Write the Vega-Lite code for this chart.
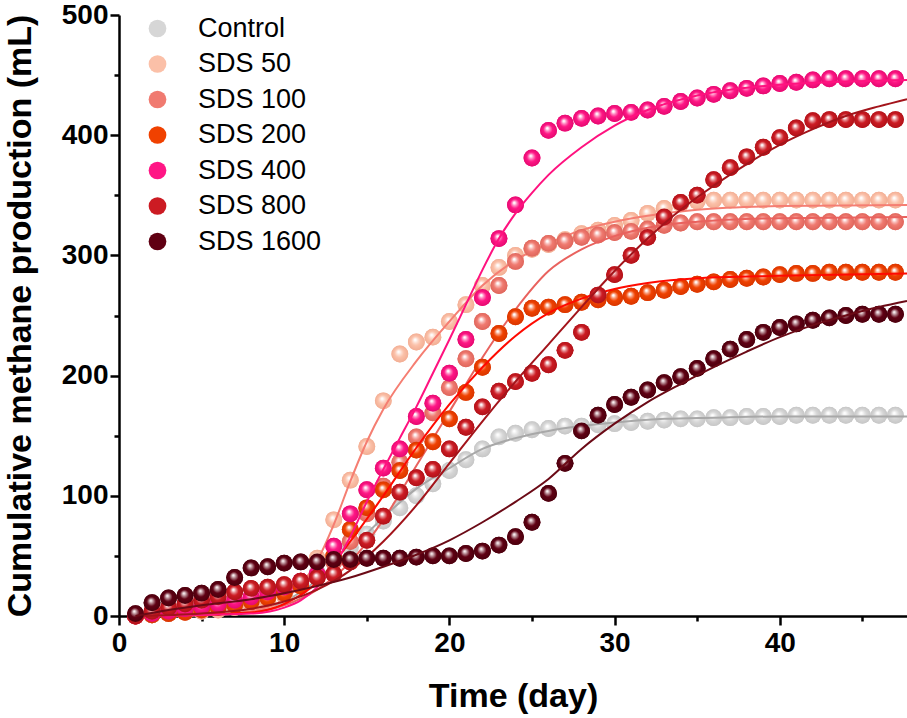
{
  "$schema": "https://vega.github.io/schema/vega-lite/v6.json",
  "width": 788,
  "height": 601,
  "autosize": {"type": "none"},
  "padding": {"left": 119, "top": 15, "right": 0, "bottom": 102},
  "background": "white",
  "datasets": {
    "points": [
      {"series": "Control", "day": 1, "mL": 0}, {"series": "Control", "day": 2, "mL": 1}, {"series": "Control", "day": 3, "mL": 3}, {"series": "Control", "day": 4, "mL": 5}, {"series": "Control", "day": 5, "mL": 7}, {"series": "Control", "day": 6, "mL": 9}, {"series": "Control", "day": 7, "mL": 11}, {"series": "Control", "day": 8, "mL": 13}, {"series": "Control", "day": 9, "mL": 16}, {"series": "Control", "day": 10, "mL": 20}, {"series": "Control", "day": 11, "mL": 27}, {"series": "Control", "day": 12, "mL": 36}, {"series": "Control", "day": 13, "mL": 46}, {"series": "Control", "day": 14, "mL": 57}, {"series": "Control", "day": 15, "mL": 68}, {"series": "Control", "day": 16, "mL": 79}, {"series": "Control", "day": 17, "mL": 90}, {"series": "Control", "day": 18, "mL": 100}, {"series": "Control", "day": 19, "mL": 110}, {"series": "Control", "day": 20, "mL": 121}, {"series": "Control", "day": 21, "mL": 130}, {"series": "Control", "day": 22, "mL": 139}, {"series": "Control", "day": 23, "mL": 149}, {"series": "Control", "day": 24, "mL": 152}, {"series": "Control", "day": 25, "mL": 155}, {"series": "Control", "day": 26, "mL": 156}, {"series": "Control", "day": 27, "mL": 158}, {"series": "Control", "day": 28, "mL": 158}, {"series": "Control", "day": 29, "mL": 159}, {"series": "Control", "day": 30, "mL": 160}, {"series": "Control", "day": 31, "mL": 161}, {"series": "Control", "day": 32, "mL": 162}, {"series": "Control", "day": 33, "mL": 163}, {"series": "Control", "day": 34, "mL": 164}, {"series": "Control", "day": 35, "mL": 164}, {"series": "Control", "day": 36, "mL": 165}, {"series": "Control", "day": 37, "mL": 165}, {"series": "Control", "day": 38, "mL": 166}, {"series": "Control", "day": 39, "mL": 166}, {"series": "Control", "day": 40, "mL": 166}, {"series": "Control", "day": 41, "mL": 167}, {"series": "Control", "day": 42, "mL": 167}, {"series": "Control", "day": 43, "mL": 167}, {"series": "Control", "day": 44, "mL": 167}, {"series": "Control", "day": 45, "mL": 167}, {"series": "Control", "day": 46, "mL": 167}, {"series": "Control", "day": 47, "mL": 167},
      {"series": "SDS 50", "day": 1, "mL": 0}, {"series": "SDS 50", "day": 2, "mL": 1}, {"series": "SDS 50", "day": 3, "mL": 2}, {"series": "SDS 50", "day": 4, "mL": 3}, {"series": "SDS 50", "day": 5, "mL": 4}, {"series": "SDS 50", "day": 6, "mL": 5}, {"series": "SDS 50", "day": 7, "mL": 7}, {"series": "SDS 50", "day": 8, "mL": 9}, {"series": "SDS 50", "day": 9, "mL": 12}, {"series": "SDS 50", "day": 10, "mL": 17}, {"series": "SDS 50", "day": 11, "mL": 28}, {"series": "SDS 50", "day": 12, "mL": 48}, {"series": "SDS 50", "day": 13, "mL": 80}, {"series": "SDS 50", "day": 14, "mL": 113}, {"series": "SDS 50", "day": 15, "mL": 141}, {"series": "SDS 50", "day": 16, "mL": 179}, {"series": "SDS 50", "day": 17, "mL": 218}, {"series": "SDS 50", "day": 18, "mL": 228}, {"series": "SDS 50", "day": 19, "mL": 232}, {"series": "SDS 50", "day": 20, "mL": 245}, {"series": "SDS 50", "day": 21, "mL": 259}, {"series": "SDS 50", "day": 22, "mL": 275}, {"series": "SDS 50", "day": 23, "mL": 290}, {"series": "SDS 50", "day": 24, "mL": 300}, {"series": "SDS 50", "day": 25, "mL": 305}, {"series": "SDS 50", "day": 26, "mL": 309}, {"series": "SDS 50", "day": 27, "mL": 313}, {"series": "SDS 50", "day": 28, "mL": 318}, {"series": "SDS 50", "day": 29, "mL": 321}, {"series": "SDS 50", "day": 30, "mL": 325}, {"series": "SDS 50", "day": 31, "mL": 329}, {"series": "SDS 50", "day": 32, "mL": 335}, {"series": "SDS 50", "day": 33, "mL": 339}, {"series": "SDS 50", "day": 34, "mL": 343}, {"series": "SDS 50", "day": 35, "mL": 345}, {"series": "SDS 50", "day": 36, "mL": 346}, {"series": "SDS 50", "day": 37, "mL": 346}, {"series": "SDS 50", "day": 38, "mL": 346}, {"series": "SDS 50", "day": 39, "mL": 346}, {"series": "SDS 50", "day": 40, "mL": 346}, {"series": "SDS 50", "day": 41, "mL": 346}, {"series": "SDS 50", "day": 42, "mL": 346}, {"series": "SDS 50", "day": 43, "mL": 346}, {"series": "SDS 50", "day": 44, "mL": 346}, {"series": "SDS 50", "day": 45, "mL": 346}, {"series": "SDS 50", "day": 46, "mL": 346}, {"series": "SDS 50", "day": 47, "mL": 346},
      {"series": "SDS 100", "day": 1, "mL": 0}, {"series": "SDS 100", "day": 2, "mL": 1}, {"series": "SDS 100", "day": 3, "mL": 2}, {"series": "SDS 100", "day": 4, "mL": 4}, {"series": "SDS 100", "day": 5, "mL": 6}, {"series": "SDS 100", "day": 6, "mL": 8}, {"series": "SDS 100", "day": 7, "mL": 10}, {"series": "SDS 100", "day": 8, "mL": 13}, {"series": "SDS 100", "day": 9, "mL": 16}, {"series": "SDS 100", "day": 10, "mL": 20}, {"series": "SDS 100", "day": 11, "mL": 25}, {"series": "SDS 100", "day": 12, "mL": 33}, {"series": "SDS 100", "day": 13, "mL": 45}, {"series": "SDS 100", "day": 14, "mL": 62}, {"series": "SDS 100", "day": 15, "mL": 85}, {"series": "SDS 100", "day": 16, "mL": 108}, {"series": "SDS 100", "day": 17, "mL": 128}, {"series": "SDS 100", "day": 18, "mL": 149}, {"series": "SDS 100", "day": 19, "mL": 169}, {"series": "SDS 100", "day": 20, "mL": 190}, {"series": "SDS 100", "day": 21, "mL": 214}, {"series": "SDS 100", "day": 22, "mL": 245}, {"series": "SDS 100", "day": 23, "mL": 275}, {"series": "SDS 100", "day": 24, "mL": 295}, {"series": "SDS 100", "day": 25, "mL": 306}, {"series": "SDS 100", "day": 26, "mL": 310}, {"series": "SDS 100", "day": 27, "mL": 312}, {"series": "SDS 100", "day": 28, "mL": 315}, {"series": "SDS 100", "day": 29, "mL": 317}, {"series": "SDS 100", "day": 30, "mL": 319}, {"series": "SDS 100", "day": 31, "mL": 320}, {"series": "SDS 100", "day": 32, "mL": 322}, {"series": "SDS 100", "day": 33, "mL": 325}, {"series": "SDS 100", "day": 34, "mL": 327}, {"series": "SDS 100", "day": 35, "mL": 328}, {"series": "SDS 100", "day": 36, "mL": 328}, {"series": "SDS 100", "day": 37, "mL": 328}, {"series": "SDS 100", "day": 38, "mL": 328}, {"series": "SDS 100", "day": 39, "mL": 328}, {"series": "SDS 100", "day": 40, "mL": 328}, {"series": "SDS 100", "day": 41, "mL": 328}, {"series": "SDS 100", "day": 42, "mL": 328}, {"series": "SDS 100", "day": 43, "mL": 328}, {"series": "SDS 100", "day": 44, "mL": 328}, {"series": "SDS 100", "day": 45, "mL": 328}, {"series": "SDS 100", "day": 46, "mL": 328}, {"series": "SDS 100", "day": 47, "mL": 328},
      {"series": "SDS 200", "day": 1, "mL": 0}, {"series": "SDS 200", "day": 2, "mL": 1}, {"series": "SDS 200", "day": 3, "mL": 2}, {"series": "SDS 200", "day": 4, "mL": 3}, {"series": "SDS 200", "day": 5, "mL": 5}, {"series": "SDS 200", "day": 6, "mL": 7}, {"series": "SDS 200", "day": 7, "mL": 9}, {"series": "SDS 200", "day": 8, "mL": 12}, {"series": "SDS 200", "day": 9, "mL": 15}, {"series": "SDS 200", "day": 10, "mL": 19}, {"series": "SDS 200", "day": 11, "mL": 25}, {"series": "SDS 200", "day": 12, "mL": 33}, {"series": "SDS 200", "day": 13, "mL": 50}, {"series": "SDS 200", "day": 14, "mL": 72}, {"series": "SDS 200", "day": 15, "mL": 90}, {"series": "SDS 200", "day": 16, "mL": 105}, {"series": "SDS 200", "day": 17, "mL": 121}, {"series": "SDS 200", "day": 18, "mL": 138}, {"series": "SDS 200", "day": 19, "mL": 145}, {"series": "SDS 200", "day": 20, "mL": 164}, {"series": "SDS 200", "day": 21, "mL": 186}, {"series": "SDS 200", "day": 22, "mL": 207}, {"series": "SDS 200", "day": 23, "mL": 235}, {"series": "SDS 200", "day": 24, "mL": 249}, {"series": "SDS 200", "day": 25, "mL": 256}, {"series": "SDS 200", "day": 26, "mL": 257}, {"series": "SDS 200", "day": 27, "mL": 259}, {"series": "SDS 200", "day": 28, "mL": 261}, {"series": "SDS 200", "day": 29, "mL": 263}, {"series": "SDS 200", "day": 30, "mL": 265}, {"series": "SDS 200", "day": 31, "mL": 266}, {"series": "SDS 200", "day": 32, "mL": 269}, {"series": "SDS 200", "day": 33, "mL": 271}, {"series": "SDS 200", "day": 34, "mL": 274}, {"series": "SDS 200", "day": 35, "mL": 276}, {"series": "SDS 200", "day": 36, "mL": 278}, {"series": "SDS 200", "day": 37, "mL": 280}, {"series": "SDS 200", "day": 38, "mL": 281}, {"series": "SDS 200", "day": 39, "mL": 282}, {"series": "SDS 200", "day": 40, "mL": 284}, {"series": "SDS 200", "day": 41, "mL": 285}, {"series": "SDS 200", "day": 42, "mL": 285}, {"series": "SDS 200", "day": 43, "mL": 286}, {"series": "SDS 200", "day": 44, "mL": 286}, {"series": "SDS 200", "day": 45, "mL": 286}, {"series": "SDS 200", "day": 46, "mL": 286}, {"series": "SDS 200", "day": 47, "mL": 286},
      {"series": "SDS 400", "day": 1, "mL": 0}, {"series": "SDS 400", "day": 2, "mL": 2}, {"series": "SDS 400", "day": 3, "mL": 4}, {"series": "SDS 400", "day": 4, "mL": 6}, {"series": "SDS 400", "day": 5, "mL": 8}, {"series": "SDS 400", "day": 6, "mL": 10}, {"series": "SDS 400", "day": 7, "mL": 13}, {"series": "SDS 400", "day": 8, "mL": 16}, {"series": "SDS 400", "day": 9, "mL": 20}, {"series": "SDS 400", "day": 10, "mL": 24}, {"series": "SDS 400", "day": 11, "mL": 29}, {"series": "SDS 400", "day": 12, "mL": 35}, {"series": "SDS 400", "day": 13, "mL": 58}, {"series": "SDS 400", "day": 14, "mL": 85}, {"series": "SDS 400", "day": 15, "mL": 105}, {"series": "SDS 400", "day": 16, "mL": 123}, {"series": "SDS 400", "day": 17, "mL": 139}, {"series": "SDS 400", "day": 18, "mL": 166}, {"series": "SDS 400", "day": 19, "mL": 177}, {"series": "SDS 400", "day": 20, "mL": 202}, {"series": "SDS 400", "day": 21, "mL": 230}, {"series": "SDS 400", "day": 22, "mL": 265}, {"series": "SDS 400", "day": 23, "mL": 314}, {"series": "SDS 400", "day": 24, "mL": 342}, {"series": "SDS 400", "day": 25, "mL": 381}, {"series": "SDS 400", "day": 26, "mL": 404}, {"series": "SDS 400", "day": 27, "mL": 410}, {"series": "SDS 400", "day": 28, "mL": 414}, {"series": "SDS 400", "day": 29, "mL": 416}, {"series": "SDS 400", "day": 30, "mL": 418}, {"series": "SDS 400", "day": 31, "mL": 419}, {"series": "SDS 400", "day": 32, "mL": 421}, {"series": "SDS 400", "day": 33, "mL": 424}, {"series": "SDS 400", "day": 34, "mL": 428}, {"series": "SDS 400", "day": 35, "mL": 431}, {"series": "SDS 400", "day": 36, "mL": 434}, {"series": "SDS 400", "day": 37, "mL": 437}, {"series": "SDS 400", "day": 38, "mL": 439}, {"series": "SDS 400", "day": 39, "mL": 441}, {"series": "SDS 400", "day": 40, "mL": 443}, {"series": "SDS 400", "day": 41, "mL": 444}, {"series": "SDS 400", "day": 42, "mL": 446}, {"series": "SDS 400", "day": 43, "mL": 447}, {"series": "SDS 400", "day": 44, "mL": 447}, {"series": "SDS 400", "day": 45, "mL": 447}, {"series": "SDS 400", "day": 46, "mL": 447}, {"series": "SDS 400", "day": 47, "mL": 447},
      {"series": "SDS 800", "day": 1, "mL": 0}, {"series": "SDS 800", "day": 2, "mL": 4}, {"series": "SDS 800", "day": 3, "mL": 7}, {"series": "SDS 800", "day": 4, "mL": 10}, {"series": "SDS 800", "day": 5, "mL": 13}, {"series": "SDS 800", "day": 6, "mL": 16}, {"series": "SDS 800", "day": 7, "mL": 20}, {"series": "SDS 800", "day": 8, "mL": 23}, {"series": "SDS 800", "day": 9, "mL": 24}, {"series": "SDS 800", "day": 10, "mL": 26}, {"series": "SDS 800", "day": 11, "mL": 29}, {"series": "SDS 800", "day": 12, "mL": 32}, {"series": "SDS 800", "day": 13, "mL": 35}, {"series": "SDS 800", "day": 14, "mL": 45}, {"series": "SDS 800", "day": 15, "mL": 63}, {"series": "SDS 800", "day": 16, "mL": 83}, {"series": "SDS 800", "day": 17, "mL": 103}, {"series": "SDS 800", "day": 18, "mL": 115}, {"series": "SDS 800", "day": 19, "mL": 122}, {"series": "SDS 800", "day": 20, "mL": 139}, {"series": "SDS 800", "day": 21, "mL": 157}, {"series": "SDS 800", "day": 22, "mL": 174}, {"series": "SDS 800", "day": 23, "mL": 187}, {"series": "SDS 800", "day": 24, "mL": 195}, {"series": "SDS 800", "day": 25, "mL": 202}, {"series": "SDS 800", "day": 26, "mL": 209}, {"series": "SDS 800", "day": 27, "mL": 221}, {"series": "SDS 800", "day": 28, "mL": 236}, {"series": "SDS 800", "day": 29, "mL": 267}, {"series": "SDS 800", "day": 30, "mL": 284}, {"series": "SDS 800", "day": 31, "mL": 300}, {"series": "SDS 800", "day": 32, "mL": 315}, {"series": "SDS 800", "day": 33, "mL": 332}, {"series": "SDS 800", "day": 34, "mL": 344}, {"series": "SDS 800", "day": 35, "mL": 350}, {"series": "SDS 800", "day": 36, "mL": 363}, {"series": "SDS 800", "day": 37, "mL": 373}, {"series": "SDS 800", "day": 38, "mL": 382}, {"series": "SDS 800", "day": 39, "mL": 390}, {"series": "SDS 800", "day": 40, "mL": 398}, {"series": "SDS 800", "day": 41, "mL": 406}, {"series": "SDS 800", "day": 42, "mL": 412}, {"series": "SDS 800", "day": 43, "mL": 413}, {"series": "SDS 800", "day": 44, "mL": 413}, {"series": "SDS 800", "day": 45, "mL": 413}, {"series": "SDS 800", "day": 46, "mL": 413}, {"series": "SDS 800", "day": 47, "mL": 413},
      {"series": "SDS 1600", "day": 1, "mL": 2}, {"series": "SDS 1600", "day": 2, "mL": 11}, {"series": "SDS 1600", "day": 3, "mL": 15}, {"series": "SDS 1600", "day": 4, "mL": 17}, {"series": "SDS 1600", "day": 5, "mL": 19}, {"series": "SDS 1600", "day": 6, "mL": 22}, {"series": "SDS 1600", "day": 7, "mL": 32}, {"series": "SDS 1600", "day": 8, "mL": 40}, {"series": "SDS 1600", "day": 9, "mL": 41}, {"series": "SDS 1600", "day": 10, "mL": 44}, {"series": "SDS 1600", "day": 11, "mL": 45}, {"series": "SDS 1600", "day": 12, "mL": 45}, {"series": "SDS 1600", "day": 13, "mL": 47}, {"series": "SDS 1600", "day": 14, "mL": 47}, {"series": "SDS 1600", "day": 15, "mL": 48}, {"series": "SDS 1600", "day": 16, "mL": 48}, {"series": "SDS 1600", "day": 17, "mL": 48}, {"series": "SDS 1600", "day": 18, "mL": 49}, {"series": "SDS 1600", "day": 19, "mL": 50}, {"series": "SDS 1600", "day": 20, "mL": 50}, {"series": "SDS 1600", "day": 21, "mL": 52}, {"series": "SDS 1600", "day": 22, "mL": 54}, {"series": "SDS 1600", "day": 23, "mL": 59}, {"series": "SDS 1600", "day": 24, "mL": 66}, {"series": "SDS 1600", "day": 25, "mL": 78}, {"series": "SDS 1600", "day": 26, "mL": 102}, {"series": "SDS 1600", "day": 27, "mL": 127}, {"series": "SDS 1600", "day": 28, "mL": 154}, {"series": "SDS 1600", "day": 29, "mL": 167}, {"series": "SDS 1600", "day": 30, "mL": 176}, {"series": "SDS 1600", "day": 31, "mL": 182}, {"series": "SDS 1600", "day": 32, "mL": 188}, {"series": "SDS 1600", "day": 33, "mL": 194}, {"series": "SDS 1600", "day": 34, "mL": 199}, {"series": "SDS 1600", "day": 35, "mL": 206}, {"series": "SDS 1600", "day": 36, "mL": 214}, {"series": "SDS 1600", "day": 37, "mL": 222}, {"series": "SDS 1600", "day": 38, "mL": 230}, {"series": "SDS 1600", "day": 39, "mL": 236}, {"series": "SDS 1600", "day": 40, "mL": 240}, {"series": "SDS 1600", "day": 41, "mL": 243}, {"series": "SDS 1600", "day": 42, "mL": 246}, {"series": "SDS 1600", "day": 43, "mL": 248}, {"series": "SDS 1600", "day": 44, "mL": 250}, {"series": "SDS 1600", "day": 45, "mL": 251}, {"series": "SDS 1600", "day": 46, "mL": 251}, {"series": "SDS 1600", "day": 47, "mL": 251}
    ],
    "fits": [
      {"series": "Control", "day": 1, "mL": 0}, {"series": "Control", "day": 4, "mL": 0.5}, {"series": "Control", "day": 8, "mL": 4}, {"series": "Control", "day": 10, "mL": 12}, {"series": "Control", "day": 12, "mL": 30}, {"series": "Control", "day": 14, "mL": 55}, {"series": "Control", "day": 16, "mL": 82}, {"series": "Control", "day": 18, "mL": 106}, {"series": "Control", "day": 20, "mL": 123}, {"series": "Control", "day": 22, "mL": 139}, {"series": "Control", "day": 24, "mL": 148}, {"series": "Control", "day": 26, "mL": 154}, {"series": "Control", "day": 28, "mL": 158}, {"series": "Control", "day": 30, "mL": 161}, {"series": "Control", "day": 33, "mL": 164}, {"series": "Control", "day": 36, "mL": 165}, {"series": "Control", "day": 40, "mL": 166}, {"series": "Control", "day": 47.7, "mL": 166},
      {"series": "SDS 50", "day": 1, "mL": 0}, {"series": "SDS 50", "day": 5, "mL": 0.5}, {"series": "SDS 50", "day": 8, "mL": 4}, {"series": "SDS 50", "day": 10, "mL": 14}, {"series": "SDS 50", "day": 11, "mL": 26}, {"series": "SDS 50", "day": 12, "mL": 46}, {"series": "SDS 50", "day": 13, "mL": 76}, {"series": "SDS 50", "day": 14, "mL": 112}, {"series": "SDS 50", "day": 15, "mL": 145}, {"series": "SDS 50", "day": 16, "mL": 172}, {"series": "SDS 50", "day": 18, "mL": 212}, {"series": "SDS 50", "day": 20, "mL": 245}, {"series": "SDS 50", "day": 22, "mL": 275}, {"series": "SDS 50", "day": 24, "mL": 296}, {"series": "SDS 50", "day": 26, "mL": 310}, {"series": "SDS 50", "day": 28, "mL": 321}, {"series": "SDS 50", "day": 30, "mL": 328}, {"series": "SDS 50", "day": 32, "mL": 333}, {"series": "SDS 50", "day": 35, "mL": 338}, {"series": "SDS 50", "day": 40, "mL": 341}, {"series": "SDS 50", "day": 47.7, "mL": 342},
      {"series": "SDS 100", "day": 1, "mL": 0}, {"series": "SDS 100", "day": 8, "mL": 3}, {"series": "SDS 100", "day": 10, "mL": 9}, {"series": "SDS 100", "day": 12, "mL": 22}, {"series": "SDS 100", "day": 14, "mL": 45}, {"series": "SDS 100", "day": 16, "mL": 80}, {"series": "SDS 100", "day": 18, "mL": 125}, {"series": "SDS 100", "day": 20, "mL": 170}, {"series": "SDS 100", "day": 22, "mL": 215}, {"series": "SDS 100", "day": 24, "mL": 255}, {"series": "SDS 100", "day": 26, "mL": 287}, {"series": "SDS 100", "day": 28, "mL": 305}, {"series": "SDS 100", "day": 30, "mL": 316}, {"series": "SDS 100", "day": 32, "mL": 323}, {"series": "SDS 100", "day": 35, "mL": 328}, {"series": "SDS 100", "day": 40, "mL": 331}, {"series": "SDS 100", "day": 47.7, "mL": 332},
      {"series": "SDS 200", "day": 1, "mL": 0}, {"series": "SDS 200", "day": 8, "mL": 3}, {"series": "SDS 200", "day": 10, "mL": 10}, {"series": "SDS 200", "day": 12, "mL": 28}, {"series": "SDS 200", "day": 14, "mL": 62}, {"series": "SDS 200", "day": 16, "mL": 100}, {"series": "SDS 200", "day": 18, "mL": 140}, {"series": "SDS 200", "day": 20, "mL": 176}, {"series": "SDS 200", "day": 22, "mL": 207}, {"series": "SDS 200", "day": 24, "mL": 233}, {"series": "SDS 200", "day": 26, "mL": 252}, {"series": "SDS 200", "day": 28, "mL": 264}, {"series": "SDS 200", "day": 30, "mL": 272}, {"series": "SDS 200", "day": 32, "mL": 277}, {"series": "SDS 200", "day": 35, "mL": 281}, {"series": "SDS 200", "day": 40, "mL": 283}, {"series": "SDS 200", "day": 47.7, "mL": 285},
      {"series": "SDS 400", "day": 1, "mL": 0}, {"series": "SDS 400", "day": 8, "mL": 2}, {"series": "SDS 400", "day": 10, "mL": 7}, {"series": "SDS 400", "day": 11, "mL": 13}, {"series": "SDS 400", "day": 12, "mL": 24}, {"series": "SDS 400", "day": 13, "mL": 42}, {"series": "SDS 400", "day": 14, "mL": 66}, {"series": "SDS 400", "day": 15, "mL": 95}, {"series": "SDS 400", "day": 16, "mL": 122}, {"series": "SDS 400", "day": 17, "mL": 148}, {"series": "SDS 400", "day": 18, "mL": 174}, {"series": "SDS 400", "day": 19, "mL": 202}, {"series": "SDS 400", "day": 20, "mL": 230}, {"series": "SDS 400", "day": 21, "mL": 259}, {"series": "SDS 400", "day": 22, "mL": 288}, {"series": "SDS 400", "day": 23, "mL": 314}, {"series": "SDS 400", "day": 24, "mL": 335}, {"series": "SDS 400", "day": 25, "mL": 352}, {"series": "SDS 400", "day": 26, "mL": 367}, {"series": "SDS 400", "day": 28, "mL": 390}, {"series": "SDS 400", "day": 30, "mL": 408}, {"series": "SDS 400", "day": 32, "mL": 421}, {"series": "SDS 400", "day": 35, "mL": 433}, {"series": "SDS 400", "day": 40, "mL": 442}, {"series": "SDS 400", "day": 47.7, "mL": 446},
      {"series": "SDS 800", "day": 1, "mL": 0}, {"series": "SDS 800", "day": 5, "mL": 2}, {"series": "SDS 800", "day": 8, "mL": 6}, {"series": "SDS 800", "day": 10, "mL": 12}, {"series": "SDS 800", "day": 12, "mL": 22}, {"series": "SDS 800", "day": 14, "mL": 38}, {"series": "SDS 800", "day": 16, "mL": 62}, {"series": "SDS 800", "day": 18, "mL": 92}, {"series": "SDS 800", "day": 20, "mL": 127}, {"series": "SDS 800", "day": 22, "mL": 162}, {"series": "SDS 800", "day": 24, "mL": 195}, {"series": "SDS 800", "day": 26, "mL": 226}, {"series": "SDS 800", "day": 28, "mL": 257}, {"series": "SDS 800", "day": 30, "mL": 287}, {"series": "SDS 800", "day": 32, "mL": 314}, {"series": "SDS 800", "day": 34, "mL": 338}, {"series": "SDS 800", "day": 36, "mL": 358}, {"series": "SDS 800", "day": 38, "mL": 376}, {"series": "SDS 800", "day": 40, "mL": 392}, {"series": "SDS 800", "day": 42, "mL": 405}, {"series": "SDS 800", "day": 44, "mL": 416}, {"series": "SDS 800", "day": 46, "mL": 424}, {"series": "SDS 800", "day": 47.7, "mL": 430},
      {"series": "SDS 1600", "day": 1, "mL": 0}, {"series": "SDS 1600", "day": 3, "mL": 5}, {"series": "SDS 1600", "day": 5, "mL": 9}, {"series": "SDS 1600", "day": 8, "mL": 14}, {"series": "SDS 1600", "day": 10, "mL": 19}, {"series": "SDS 1600", "day": 12, "mL": 25}, {"series": "SDS 1600", "day": 14, "mL": 32}, {"series": "SDS 1600", "day": 16, "mL": 41}, {"series": "SDS 1600", "day": 18, "mL": 51}, {"series": "SDS 1600", "day": 20, "mL": 63}, {"series": "SDS 1600", "day": 22, "mL": 78}, {"series": "SDS 1600", "day": 24, "mL": 95}, {"series": "SDS 1600", "day": 26, "mL": 114}, {"series": "SDS 1600", "day": 28, "mL": 139}, {"series": "SDS 1600", "day": 30, "mL": 160}, {"series": "SDS 1600", "day": 32, "mL": 178}, {"series": "SDS 1600", "day": 34, "mL": 193}, {"series": "SDS 1600", "day": 36, "mL": 207}, {"series": "SDS 1600", "day": 38, "mL": 220}, {"series": "SDS 1600", "day": 40, "mL": 232}, {"series": "SDS 1600", "day": 42, "mL": 242}, {"series": "SDS 1600", "day": 44, "mL": 250}, {"series": "SDS 1600", "day": 46, "mL": 257}, {"series": "SDS 1600", "day": 47.7, "mL": 262}
    ]
  },
  "encoding": {
    "x": {
      "field": "day",
      "type": "quantitative",
      "scale": {"domain": [0, 47.7], "nice": false, "zero": false},
      "axis": {
        "title": "Time (day)",
        "values": [0, 5, 10, 15, 20, 25, 30, 35, 40, 45],
        "labelExpr": "datum.value % 10 === 0 ? datum.label : ''",
        "tickSize": {"condition": {"test": "datum.value % 10 === 0", "value": 9}, "value": 5},
        "labelFlush": false,
        "labelPadding": 4,
        "titlePadding": 22
      }
    },
    "y": {
      "field": "mL",
      "type": "quantitative",
      "scale": {"domain": [0, 500], "nice": false},
      "axis": {
        "title": "Cumulative methane production (mL)",
        "values": [0, 50, 100, 150, 200, 250, 300, 350, 400, 450, 500],
        "labelExpr": "datum.value % 100 === 0 ? datum.label : ''",
        "tickSize": {"condition": {"test": "datum.value % 100 === 0", "value": 9}, "value": 5},
        "labelFlush": false,
        "labelPadding": 2,
        "titlePadding": 24
      }
    }
  },
  "layer": [
    {
      "data": {"name": "points"},
      "mark": {"type": "circle", "size": 285, "opacity": 1},
      "encoding": {
        "color": {
          "field": "series",
          "type": "nominal",
          "scale": {
            "domain": ["Control", "SDS 50", "SDS 100", "SDS 200", "SDS 400", "SDS 800", "SDS 1600"],
            "range": ["#d6d6d6", "#fbc0a8", "#f07a70", "#f04100", "#ff1685", "#cc1b23", "#600013"]
          },
          "legend": {
            "title": null,
            "orient": "none",
            "legendX": 25,
            "legendY": 0,
            "padding": 0,
            "symbolType": "circle",
            "symbolSize": 314,
            "symbolStrokeWidth": 0,
            "labelFont": "Liberation Sans",
            "labelFontSize": 27,
            "labelColor": "black",
            "labelOffset": 27,
            "rowPadding": 7.5,
            "encode": {
              "symbols": {
                "update": {
                  "fill": {"signal": "{gradient: 'radial', x1: 0.42, y1: 0.36, r1: 0, x2: 0.5, y2: 0.5, r2: 0.5, stops: [{offset: 0, color: '#ffffff'}, {offset: 0.1, color: '#ffffff'}, {offset: 0.45, color: scale('color', datum.value)}, {offset: 1, color: scale('color', datum.value)}]}"},
                  "opacity": {"value": 1}
                }
              }
            }
          }
        }
      }
    },
    {
      "data": {"name": "points"},
      "transform": [{"filter": {"field": "series", "equal": "Control"}}],
      "mark": {"type": "circle", "size": 285, "opacity": 1, "fill": {"gradient": "radial", "x1": 0.42, "y1": 0.36, "r1": 0, "x2": 0.5, "y2": 0.5, "r2": 0.5, "stops": [{"offset": 0, "color": "#ffffff"}, {"offset": 0.08, "color": "#ffffff"}, {"offset": 0.28, "color": "#ececec"}, {"offset": 0.55, "color": "#d6d6d6"}, {"offset": 1, "color": "#c6c6c6"}]}}
    },
    {
      "data": {"name": "fits"},
      "transform": [{"filter": {"field": "series", "equal": "Control"}}],
      "mark": {"type": "line", "color": "#a8a8a8", "strokeWidth": 2, "interpolate": "monotone"}
    },
    {
      "data": {"name": "points"},
      "transform": [{"filter": {"field": "series", "equal": "SDS 50"}}],
      "mark": {"type": "circle", "size": 285, "opacity": 1, "fill": {"gradient": "radial", "x1": 0.42, "y1": 0.36, "r1": 0, "x2": 0.5, "y2": 0.5, "r2": 0.5, "stops": [{"offset": 0, "color": "#ffffff"}, {"offset": 0.08, "color": "#ffffff"}, {"offset": 0.28, "color": "#fde0d4"}, {"offset": 0.55, "color": "#fbc0a8"}, {"offset": 1, "color": "#f2ae94"}]}}
    },
    {
      "data": {"name": "fits"},
      "transform": [{"filter": {"field": "series", "equal": "SDS 50"}}],
      "mark": {"type": "line", "color": "#f57e72", "strokeWidth": 2, "interpolate": "monotone"}
    },
    {
      "data": {"name": "points"},
      "transform": [{"filter": {"field": "series", "equal": "SDS 100"}}],
      "mark": {"type": "circle", "size": 285, "opacity": 1, "fill": {"gradient": "radial", "x1": 0.42, "y1": 0.36, "r1": 0, "x2": 0.5, "y2": 0.5, "r2": 0.5, "stops": [{"offset": 0, "color": "#ffffff"}, {"offset": 0.08, "color": "#ffffff"}, {"offset": 0.28, "color": "#f8bcb8"}, {"offset": 0.55, "color": "#f07a70"}, {"offset": 1, "color": "#de665c"}]}}
    },
    {
      "data": {"name": "fits"},
      "transform": [{"filter": {"field": "series", "equal": "SDS 100"}}],
      "mark": {"type": "line", "color": "#e9625e", "strokeWidth": 2, "interpolate": "monotone"}
    },
    {
      "data": {"name": "points"},
      "transform": [{"filter": {"field": "series", "equal": "SDS 200"}}],
      "mark": {"type": "circle", "size": 285, "opacity": 1, "fill": {"gradient": "radial", "x1": 0.42, "y1": 0.36, "r1": 0, "x2": 0.5, "y2": 0.5, "r2": 0.5, "stops": [{"offset": 0, "color": "#ffffff"}, {"offset": 0.08, "color": "#ffffff"}, {"offset": 0.28, "color": "#f8a080"}, {"offset": 0.55, "color": "#f04100"}, {"offset": 1, "color": "#d83600"}]}}
    },
    {
      "data": {"name": "fits"},
      "transform": [{"filter": {"field": "series", "equal": "SDS 200"}}],
      "mark": {"type": "line", "color": "#ff0a00", "strokeWidth": 2, "interpolate": "monotone"}
    },
    {
      "data": {"name": "points"},
      "transform": [{"filter": {"field": "series", "equal": "SDS 400"}}],
      "mark": {"type": "circle", "size": 285, "opacity": 1, "fill": {"gradient": "radial", "x1": 0.42, "y1": 0.36, "r1": 0, "x2": 0.5, "y2": 0.5, "r2": 0.5, "stops": [{"offset": 0, "color": "#ffffff"}, {"offset": 0.08, "color": "#ffffff"}, {"offset": 0.28, "color": "#ff8ac2"}, {"offset": 0.55, "color": "#ff1685"}, {"offset": 1, "color": "#e40a70"}]}}
    },
    {
      "data": {"name": "fits"},
      "transform": [{"filter": {"field": "series", "equal": "SDS 400"}}],
      "mark": {"type": "line", "color": "#ff127f", "strokeWidth": 2, "interpolate": "monotone"}
    },
    {
      "data": {"name": "points"},
      "transform": [{"filter": {"field": "series", "equal": "SDS 800"}}],
      "mark": {"type": "circle", "size": 285, "opacity": 1, "fill": {"gradient": "radial", "x1": 0.42, "y1": 0.36, "r1": 0, "x2": 0.5, "y2": 0.5, "r2": 0.5, "stops": [{"offset": 0, "color": "#ffffff"}, {"offset": 0.08, "color": "#ffffff"}, {"offset": 0.28, "color": "#e68d91"}, {"offset": 0.55, "color": "#cc1b23"}, {"offset": 1, "color": "#b01219"}]}}
    },
    {
      "data": {"name": "fits"},
      "transform": [{"filter": {"field": "series", "equal": "SDS 800"}}],
      "mark": {"type": "line", "color": "#a3141b", "strokeWidth": 2, "interpolate": "monotone"}
    },
    {
      "data": {"name": "points"},
      "transform": [{"filter": {"field": "series", "equal": "SDS 1600"}}],
      "mark": {"type": "circle", "size": 285, "opacity": 1, "fill": {"gradient": "radial", "x1": 0.42, "y1": 0.36, "r1": 0, "x2": 0.5, "y2": 0.5, "r2": 0.5, "stops": [{"offset": 0, "color": "#ffffff"}, {"offset": 0.08, "color": "#f4e8ea"}, {"offset": 0.28, "color": "#b08089"}, {"offset": 0.55, "color": "#600013"}, {"offset": 1, "color": "#4a000d"}]}}
    },
    {
      "data": {"name": "fits"},
      "transform": [{"filter": {"field": "series", "equal": "SDS 1600"}}],
      "mark": {"type": "line", "color": "#6b0a16", "strokeWidth": 2, "interpolate": "monotone"}
    }
  ],
  "config": {
    "view": {"stroke": null},
    "axis": {
      "grid": false,
      "domainColor": "black",
      "domainWidth": 2.5,
      "tickColor": "black",
      "tickWidth": 2.5,
      "labelFont": "Liberation Sans",
      "labelFontSize": 28,
      "labelFontWeight": "bold",
      "labelColor": "black",
      "titleFont": "Liberation Sans",
      "titleFontSize": 34,
      "titleFontWeight": "bold",
      "titleColor": "black"
    }
  }
}
